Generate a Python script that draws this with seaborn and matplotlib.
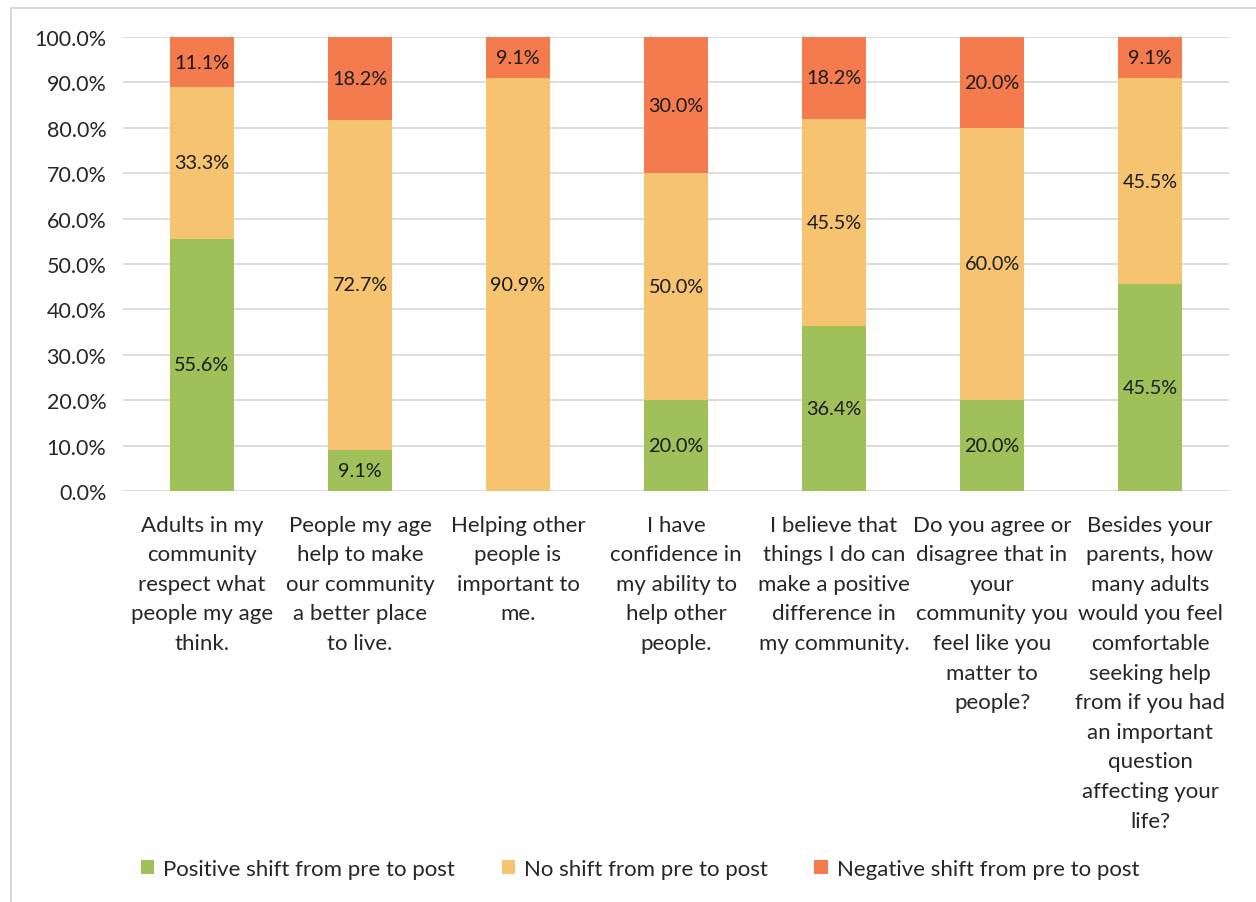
import matplotlib
matplotlib.use("Agg")
import matplotlib.pyplot as plt
import seaborn as sns
import pandas as pd
import numpy as np
from matplotlib.lines import Line2D
from matplotlib.patches import Patch

categories = [
    "Adults in my\ncommunity\nrespect what\npeople my age\nthink.",
    "People my age\nhelp to make\nour community\na better place\nto live.",
    "Helping other\npeople is\nimportant to\nme.",
    "I have\nconfidence in\nmy ability to\nhelp other\npeople.",
    "I believe that\nthings I do can\nmake a positive\ndifference in\nmy community.",
    "Do you agree or\ndisagree that in\nyour\ncommunity you\nfeel like you\nmatter to\npeople?",
    "Besides your\nparents, how\nmany adults\nwould you feel\ncomfortable\nseeking help\nfrom if you had\nan important\nquestion\naffecting your\nlife?",
]
positive = [55.6, 9.1, 0.0, 20.0, 36.4, 20.0, 45.5]
no_shift = [33.3, 72.7, 90.9, 50.0, 45.5, 60.0, 45.5]
negative = [11.1, 18.2, 9.1, 30.0, 18.2, 20.0, 9.1]
series_names = ["Positive shift from pre to post", "No shift from pre to post",
                "Negative shift from pre to post"]
colors = ["#A0C05A", "#F6C471", "#F47B4E"]

sns.set_theme(style="white")
plt.rcParams['font.family'] = ['Lato', 'DejaVu Sans']

fig = plt.figure(figsize=(12.56, 9.03), dpi=100)
ax = fig.add_axes([123/1256, 1-492/903, (1229-123)/1256, (492-38)/903])

df = pd.DataFrame({"cat": categories, "pos": positive, "no": no_shift, "neg": negative})
bottoms = np.zeros(len(categories))
for col, name, c in zip(["pos", "no", "neg"], series_names, colors):
    vals = df[col].to_numpy()
    sns.barplot(x=df["cat"], y=vals, bottom=bottoms, color=c, width=0.4, saturation=1,
                ax=ax, label=name, order=categories, edgecolor="none", linewidth=0)
    for i, (v, b) in enumerate(zip(vals, bottoms)):
        if v > 0:
            ax.text(i, b + v/2, f"{v:.1f}%", ha="center", va="center",
                    fontsize=14.3, color="#1a1a1a")
    bottoms = bottoms + vals

ax.set_xlim(-0.5, 6.5)
ax.set_ylim(0, 100)
ax.set_yticks(np.arange(0, 101, 10))
ax.set_yticklabels([f"{t:.1f}%" for t in np.arange(0, 101, 10)], fontsize=15.5)
ax.set_xticks(range(len(categories)))
ax.set_xticklabels(categories, fontsize=16, linespacing=1.6, va="top")
ax.tick_params(axis="x", length=0, pad=17)
ax.tick_params(axis="y", length=0, pad=12)
ax.set_xlabel("")
ax.set_ylabel("")
ax.yaxis.grid(True, color="#d9d9d9", linewidth=1.3)
ax.set_axisbelow(True)
for s in ax.spines.values():
    s.set_visible(False)
if ax.get_legend() is not None:
    ax.get_legend().remove()

handles = [Patch(facecolor=c, edgecolor="none") for c in colors]
fig.legend(handles, series_names, loc="center", bbox_to_anchor=(640/1256, 1-870/903),
           ncol=3, frameon=False, fontsize=16, handlelength=0.6, handleheight=0.6,
           handletextpad=0.4, columnspacing=2.1)

fig.add_artist(Line2D([11/1256, 11/1256, 1.0], [0, 1-9/903, 1-9/903],
                      transform=fig.transFigure, color="#d9d9d9", linewidth=1.5))

fig.savefig("out.png", dpi=100)
